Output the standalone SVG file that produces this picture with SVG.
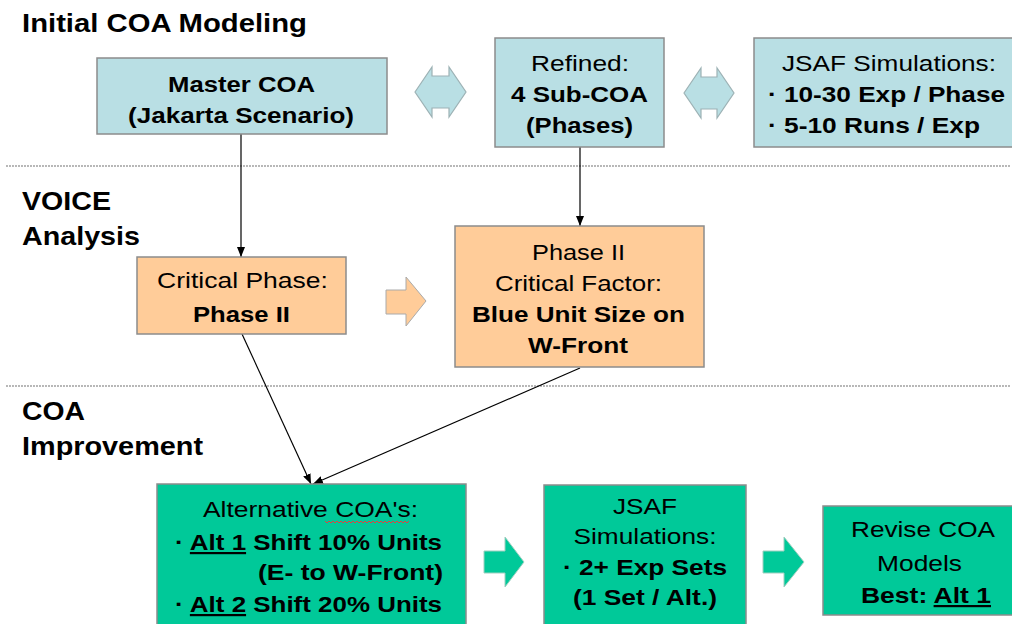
<svg xmlns="http://www.w3.org/2000/svg" width="1012" height="624" viewBox="0 0 1012 624">
<defs>
<marker id="ah" viewBox="0 0 10 8" refX="10" refY="4" markerWidth="10" markerHeight="8" markerUnits="userSpaceOnUse" orient="auto"><path d="M0,0 L10,4 L0,8 z" fill="#000"/></marker>
</defs>
<style>
text{font-family:"Liberation Sans",Arial,sans-serif;fill:#000}
.h{font-size:25px;font-weight:bold}
.t{font-size:22px}
.b{font-weight:bold}
.m{text-anchor:middle}
.blue{fill:#B9DFE4;stroke:#8C8C8C;stroke-width:1.5}
.org{fill:#FFCC99;stroke:#8C8C8C;stroke-width:1.5}
.grn{fill:#00C999;stroke:#8C8C8C;stroke-width:1.5}
.dbl{fill:#B9DFE4;stroke:#9DB2B5;stroke-width:1.2}
.oar{fill:#FFCC99;stroke:#AAAAAA;stroke-width:1}
.gar{fill:#00C999;stroke:#9FCFC0;stroke-width:1}
.dot{stroke:#A0A0A0;stroke-width:2;stroke-dasharray:0 3;stroke-linecap:round;fill:none}
.con{stroke:#000;stroke-width:1.2;fill:none;marker-end:url(#ah)}
.u{text-decoration:underline}
</style>

<g id="separators">
<line class="dot" x1="7" y1="166" x2="1012" y2="166"/>
<line class="dot" x1="7" y1="386" x2="1012" y2="386"/>
</g>

<g id="section-labels">
<text class="h" x="22" y="32" textLength="285" lengthAdjust="spacingAndGlyphs">Initial COA Modeling</text>
<text class="h" x="22" y="210" textLength="89" lengthAdjust="spacingAndGlyphs">VOICE</text>
<text class="h" x="22" y="245" textLength="118" lengthAdjust="spacingAndGlyphs">Analysis</text>
<text class="h" x="22" y="420" textLength="63" lengthAdjust="spacingAndGlyphs">COA</text>
<text class="h" x="22" y="455" textLength="181" lengthAdjust="spacingAndGlyphs">Improvement</text>
</g>

<g id="connectors">
<line class="con" x1="241" y1="134" x2="241" y2="257"/>
<line class="con" x1="580" y1="147" x2="580" y2="226"/>
<line class="con" x1="242" y1="334" x2="311" y2="484"/>
<line class="con" x1="580" y1="368" x2="313" y2="484"/>
<path id="dbl1" class="dbl" d="M415,92 L432,67 L432,76 L449,76 L449,67 L466,92 L449,117 L449,108 L432,108 L432,117 Z"/>
<path id="dbl2" class="dbl" d="M684,93 L701,68 L701,77 L717,77 L717,68 L734,93 L717,118 L717,109 L701,109 L701,118 Z"/>
<path id="oarrow" class="oar" d="M386,290 L406,290 L406,277 L426,301 L406,326 L406,314 L386,314 Z"/>
<path id="garrow1" class="gar" d="M484,551 L505,551 L505,537 L524,562 L505,587 L505,573 L484,573 Z"/>
<path id="garrow2" class="gar" d="M763,551 L784,551 L784,537 L804,562 L784,587 L784,573 L763,573 Z"/>
</g>

<g id="master-coa">
<rect class="blue" x="97" y="58" width="290" height="76"/>
<text class="t b m" x="241.5" y="92" textLength="147" lengthAdjust="spacingAndGlyphs">Master COA</text>
<text class="t b m" x="241" y="123" textLength="226" lengthAdjust="spacingAndGlyphs">(Jakarta Scenario)</text>
</g>

<g id="refined">
<rect class="blue" x="495" y="38" width="169" height="109"/>
<text class="t m" x="580" y="71" textLength="98" lengthAdjust="spacingAndGlyphs">Refined:</text>
<text class="t b m" x="579.5" y="102" textLength="137" lengthAdjust="spacingAndGlyphs">4 Sub-COA</text>
<text class="t b m" x="579.5" y="133" textLength="107" lengthAdjust="spacingAndGlyphs">(Phases)</text>
</g>

<g id="jsaf-sim">
<rect class="blue" x="754" y="38" width="270" height="109"/>
<text class="t" x="782" y="71" textLength="214" lengthAdjust="spacingAndGlyphs">JSAF Simulations:</text>
<text class="t b" x="768" y="102" textLength="237" lengthAdjust="spacingAndGlyphs">· 10-30 Exp / Phase</text>
<text class="t b" x="768" y="133" textLength="212" lengthAdjust="spacingAndGlyphs">· 5-10 Runs / Exp</text>
</g>

<g id="critical-phase">
<rect class="org" x="137" y="257" width="209" height="77"/>
<text class="t m" x="242.5" y="288" textLength="171" lengthAdjust="spacingAndGlyphs">Critical Phase:</text>
<text class="t b m" x="241.5" y="322" textLength="97" lengthAdjust="spacingAndGlyphs">Phase II</text>
</g>

<g id="critical-factor">
<rect class="org" x="455" y="226" width="249" height="141"/>
<text class="t m" x="578.5" y="260" textLength="93" lengthAdjust="spacingAndGlyphs">Phase II</text>
<text class="t m" x="578.5" y="291" textLength="167" lengthAdjust="spacingAndGlyphs">Critical Factor:</text>
<text class="t b m" x="578.5" y="322" textLength="213" lengthAdjust="spacingAndGlyphs">Blue Unit Size on</text>
<text class="t b m" x="578" y="353" textLength="100" lengthAdjust="spacingAndGlyphs">W-Front</text>
</g>

<g id="alternative-coas">
<rect class="grn" x="157" y="484" width="309" height="150"/>
<text class="t m" x="310.5" y="517" textLength="215" lengthAdjust="spacingAndGlyphs">Alternative COA's:</text>
<polyline points="325,521 327,523 329,521 331,523 333,521 335,523 337,521 339,523 341,521 343,523 345,521 347,523 349,521 351,523 353,521 355,523 357,521 359,523 361,521 363,523 365,521 367,523 369,521 371,523 373,521 375,523 377,521 379,523 381,521 383,523 385,521 387,523 389,521 391,523 393,521 395,523 397,521 399,523 401,521 403,523 405,521 407,523 409,521" fill="none" stroke="#E04040" stroke-width="1"/>
<text class="t b" x="175" y="550" textLength="267" lengthAdjust="spacingAndGlyphs">· <tspan class="u">Alt 1</tspan>  Shift 10% Units</text>
<text class="t b" x="258" y="580" textLength="185" lengthAdjust="spacingAndGlyphs">(E- to W-Front)</text>
<text class="t b" x="175" y="612" textLength="267" lengthAdjust="spacingAndGlyphs">· <tspan class="u">Alt 2</tspan>  Shift 20% Units</text>
</g>

<g id="jsaf-sim-2">
<rect class="grn" x="544" y="485" width="202" height="150"/>
<text class="t m" x="645" y="514" textLength="64" lengthAdjust="spacingAndGlyphs">JSAF</text>
<text class="t m" x="645" y="544" textLength="143" lengthAdjust="spacingAndGlyphs">Simulations:</text>
<text class="t b m" x="645" y="575" textLength="164" lengthAdjust="spacingAndGlyphs">· 2+ Exp Sets</text>
<text class="t b m" x="645" y="605" textLength="144" lengthAdjust="spacingAndGlyphs">(1 Set / Alt.)</text>
</g>

<g id="revise-coa">
<rect class="grn" x="823" y="506" width="200" height="109"/>
<text class="t" x="851" y="537" textLength="144" lengthAdjust="spacingAndGlyphs">Revise COA</text>
<text class="t" x="877" y="571" textLength="85" lengthAdjust="spacingAndGlyphs">Models</text>
<text class="t b" x="861" y="603" textLength="130" lengthAdjust="spacingAndGlyphs">Best: <tspan class="u">Alt 1</tspan></text>
</g>
</svg>
